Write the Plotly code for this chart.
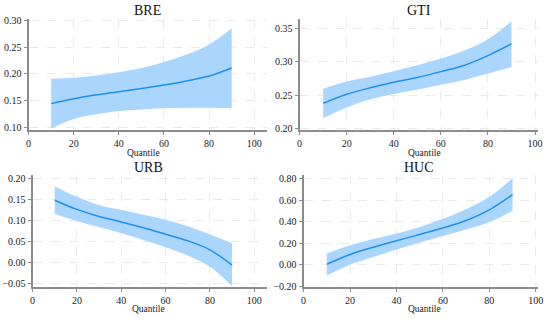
import plotly.graph_objects as go

quantiles = [10, 20, 30, 40, 50, 60, 70, 80, 90]

bre_coef = [0.145, 0.154, 0.161, 0.167, 0.173, 0.1795, 0.187, 0.196, 0.211]
bre_upper = [0.191, 0.193, 0.197, 0.203, 0.211, 0.222, 0.236, 0.255, 0.285]
bre_lower = [0.098, 0.116, 0.125, 0.131, 0.134, 0.136, 0.137, 0.137, 0.136]

gti_coef = [0.238, 0.2516, 0.2612, 0.2695, 0.2768, 0.2855, 0.295, 0.3095, 0.327]
gti_upper = [0.260, 0.2706, 0.278, 0.286, 0.295, 0.305, 0.317, 0.334, 0.361]
gti_lower = [0.2155, 0.2316, 0.244, 0.252, 0.2587, 0.266, 0.273, 0.2826, 0.2923]

urb_coef = [0.148, 0.126, 0.109, 0.096, 0.082, 0.0667, 0.051, 0.0295, -0.007]
urb_upper = [0.181, 0.156, 0.136, 0.125, 0.113, 0.1016, 0.086, 0.0667, 0.045]
urb_lower = [0.115, 0.098, 0.084, 0.069, 0.053, 0.0357, 0.016, -0.011, -0.057]

huc_coef = [0.005, 0.096, 0.163, 0.223, 0.283, 0.343, 0.413, 0.512, 0.654]
huc_upper = [0.105, 0.181, 0.241, 0.292, 0.352, 0.428, 0.518, 0.633, 0.806]
huc_lower = [-0.099, 0.0, 0.072, 0.142, 0.208, 0.268, 0.328, 0.398, 0.503]

titles = ["BRE", "GTI", "URB", "HUC"]
x_ticks = [0, 20, 40, 60, 80, 100]
y_ticks = [
    [0.10, 0.15, 0.20, 0.25, 0.30],
    [0.20, 0.25, 0.30, 0.35],
    [-0.05, 0.00, 0.05, 0.10, 0.15, 0.20],
    [-0.20, 0.00, 0.20, 0.40, 0.60, 0.80],
]

panels = [
    (bre_coef, bre_upper, bre_lower),
    (gti_coef, gti_upper, gti_lower),
    (urb_coef, urb_upper, urb_lower),
    (huc_coef, huc_upper, huc_lower),
]

W, H = 550, 322
# pixel boxes: (left, right, top, bottom)
boxes = [
    (26, 268, 15, 130),
    (301, 543, 15, 130),
    (30, 268, 176, 291),
    (305, 543, 176, 291),
]
x_ranges = [[0, 105.7], [0, 101.3], [0, 105.8], [0, 101.0]]
y_ranges = [[0.095, 0.303], [0.1975, 0.365], [-0.059, 0.208], [-0.206, 0.836]]
title_x = [147, 422, 148, 422]
label_x = [143, 428, 148, 428]

FILL = "rgb(170,214,253)"
LINE = "rgb(30,144,240)"
AXIS = "rgb(140,140,140)"
GRID = "rgb(234,234,234)"
FONT = "Liberation Serif, Times New Roman, serif"

fig = go.Figure()
annotations = []
for i, (coef, up, lo) in enumerate(panels):
    xa = "x" if i == 0 else f"x{i+1}"
    ya = "y" if i == 0 else f"y{i+1}"
    fig.add_trace(go.Scatter(x=quantiles, y=lo, mode="lines", line=dict(width=0, shape="spline", color=FILL),
                             xaxis=xa, yaxis=ya, showlegend=False, hoverinfo="skip"))
    fig.add_trace(go.Scatter(x=quantiles, y=up, mode="lines", line=dict(width=0, shape="spline", color=FILL),
                             fill="tonexty", fillcolor=FILL, xaxis=xa, yaxis=ya, showlegend=False, hoverinfo="skip"))
    fig.add_trace(go.Scatter(x=quantiles, y=coef, mode="lines", line=dict(width=1.5, shape="spline", color=LINE),
                             xaxis=xa, yaxis=ya, showlegend=False))
    l, r, t, b = boxes[i]
    xd = [l / W, r / W]
    yd = [1 - b / H, 1 - t / H]
    key = "" if i == 0 else str(i + 1)
    fig.layout["xaxis" + key] = dict(
        domain=xd, range=x_ranges[i], anchor=ya, tickvals=x_ticks,
        showline=True, linecolor=AXIS, linewidth=1.5, ticks="outside", ticklen=3, tickcolor=AXIS,
        showgrid=True, gridcolor=GRID, griddash="dash", gridwidth=1, zeroline=False,
        tickfont=dict(family=FONT, size=10, color="#222"),
    )
    fig.layout["yaxis" + key] = dict(
        domain=yd, range=y_ranges[i], anchor=xa, tickvals=y_ticks[i], tickformat=".2f",
        showline=True, linecolor=AXIS, linewidth=2, ticks="outside", ticklen=3, tickcolor=AXIS,
        showgrid=True, gridcolor=GRID, griddash="dash", gridwidth=1, zeroline=False,
        tickfont=dict(family=FONT, size=10, color="#222"),
    )
    annotations.append(dict(text=titles[i], x=title_x[i] / W, y=1 - (t - 8) / H,
                            xref="paper", yref="paper", showarrow=False, xanchor="center", yanchor="middle",
                            font=dict(family=FONT, size=14, color="#111")))
    annotations.append(dict(text="Quantile", x=label_x[i] / W, y=1 - (b + 23) / H,
                            xref="paper", yref="paper", showarrow=False, xanchor="center", yanchor="middle",
                            font=dict(family=FONT, size=9.5, color="#222")))

fig.update_layout(
    width=W, height=H, margin=dict(l=0, r=0, t=0, b=0),
    paper_bgcolor="white", plot_bgcolor="white",
    annotations=annotations,
)
fig.write_html("out.html", config={"displayModeBar": False},
               post_script="document.body.style.margin='0';document.body.style.padding='0';")
